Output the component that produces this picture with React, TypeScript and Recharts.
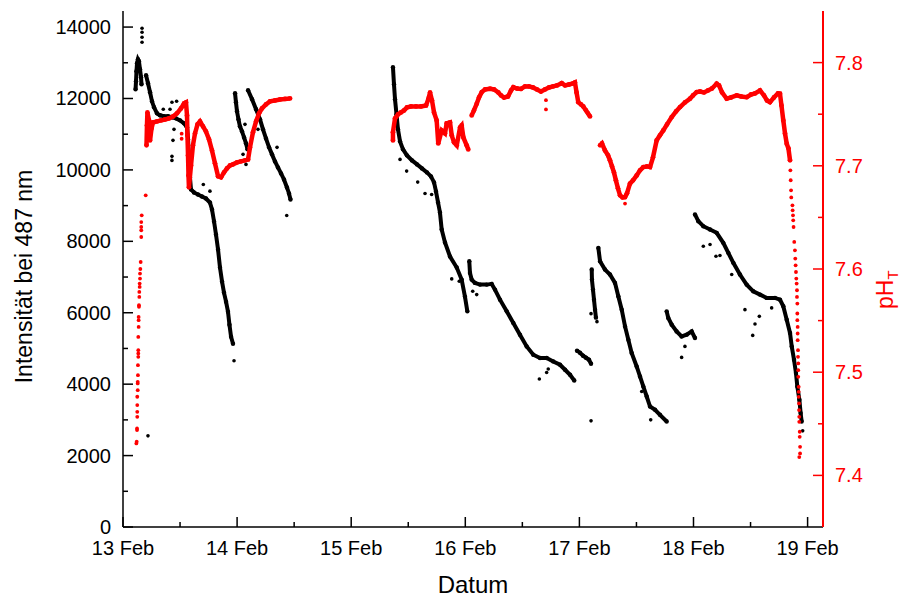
import { Scatter, ScatterChart, XAxis, YAxis } from "recharts";

type Pair = [number, number];

// x: day of February (fractional), y: intensity at 487 nm
const intensity13Start: Pair[] = [
    [13.110, 12258], [13.114, 12482], [13.118, 12763], [13.123, 12987], [13.131, 13099],
    [13.140, 13043], [13.149, 12819], [13.158, 12594], [13.162, 12398],
];
const intensity13: Pair[] = [
    [13.202, 12650], [13.219, 12426], [13.237, 12174], [13.254, 11921], [13.272, 11753],
    [13.298, 11585], [13.324, 11529], [13.359, 11501], [13.394, 11501], [13.429, 11473],
    [13.464, 11444], [13.500, 11388], [13.535, 11304], [13.561, 11192], [13.570, 10855],
    [13.578, 10294], [13.587, 9789], [13.596, 9453], [13.622, 9369], [13.657, 9313],
    [13.692, 9257], [13.727, 9200], [13.762, 9088], [13.780, 8892], [13.798, 8555],
    [13.815, 8191], [13.833, 7770], [13.850, 7265], [13.868, 6872], [13.885, 6564],
    [13.903, 6311], [13.920, 6031], [13.933, 5666], [13.947, 5330], [13.964, 5133],
];
const intensity14a: Pair[] = [
    [13.982, 12146], [13.990, 11893], [13.999, 11641], [14.012, 11416], [14.025, 11220],
    [14.043, 11080], [14.061, 10911], [14.078, 10743], [14.091, 10575],
];
const intensity14b: Pair[] = [
    [14.096, 12230], [14.131, 11977], [14.166, 11697], [14.201, 11416], [14.227, 11136],
    [14.253, 10883], [14.280, 10631], [14.306, 10435], [14.332, 10238], [14.358, 10070],
    [14.385, 9902], [14.411, 9733], [14.437, 9509], [14.455, 9341], [14.468, 9172],
];
const intensity15: Pair[] = [
    [15.366, 12875], [15.375, 12398], [15.384, 11977], [15.397, 11557], [15.410, 11136],
    [15.428, 10799], [15.454, 10575], [15.489, 10407], [15.533, 10266], [15.577, 10154],
    [15.620, 10042], [15.664, 9930], [15.699, 9818], [15.726, 9649], [15.743, 9397],
    [15.761, 9088], [15.778, 8808], [15.793, 8331], [15.822, 7966], [15.866, 7574],
    [15.925, 7265], [15.968, 6928], [15.997, 6452], [16.018, 6039],
];
const intensity16: Pair[] = [
    [16.035, 7442], [16.041, 7116], [16.056, 6928], [16.085, 6836], [16.129, 6788],
    [16.188, 6788], [16.231, 6808], [16.260, 6648], [16.304, 6367], [16.363, 6039],
    [16.421, 5714], [16.479, 5386], [16.538, 5057], [16.596, 4825], [16.655, 4732],
    [16.713, 4732], [16.771, 4637], [16.830, 4544], [16.874, 4404], [16.918, 4264],
    [16.955, 4104],
];
const intensity17a: Pair[] = [
    [16.979, 4937], [17.005, 4881], [17.032, 4797], [17.058, 4740], [17.084, 4684], [17.102, 4572],
];
const intensity17b: Pair[] = [
    [17.108, 7209], [17.110, 6928], [17.119, 6648], [17.128, 6367], [17.137, 6087], [17.145, 5862],
];
const intensity17c: Pair[] = [
    [17.166, 7817], [17.181, 7442], [17.224, 7209], [17.268, 7069], [17.312, 6836],
    [17.341, 6460], [17.371, 6087], [17.400, 5618], [17.429, 5245], [17.458, 4872],
    [17.502, 4496], [17.531, 4216], [17.560, 3935], [17.590, 3655], [17.619, 3374],
    [17.663, 3282], [17.706, 3142], [17.765, 2954],
];
const intensity17d: Pair[] = [
    [17.765, 6039], [17.779, 5854], [17.809, 5666], [17.852, 5478], [17.896, 5338],
    [17.940, 5386], [17.984, 5478], [18.013, 5293],
];
const intensity18: Pair[] = [
    [18.013, 8752], [18.042, 8564], [18.086, 8424], [18.145, 8331], [18.203, 8238],
    [18.261, 7958], [18.305, 7677], [18.349, 7397], [18.407, 7069], [18.466, 6788],
    [18.524, 6600], [18.583, 6508], [18.641, 6415], [18.714, 6415], [18.758, 6367],
    [18.787, 6180], [18.817, 5806], [18.846, 5433], [18.861, 5057], [18.881, 4684],
    [18.898, 4311], [18.910, 3935], [18.928, 3562], [18.939, 3189], [18.948, 2954],
];
const intensityOutliers: Pair[] = [
    [13.167, 13969], [13.167, 13857], [13.167, 13716], [13.167, 13576], [13.219, 2553],
    [13.353, 11697], [13.412, 11697], [13.429, 11893], [13.447, 11136], [13.438, 10827],
    [13.429, 10379], [13.429, 10266], [13.470, 11921], [13.704, 9593], [13.762, 9405],
    [13.973, 4656], [14.069, 11276], [14.052, 10435], [14.078, 10154], [14.183, 11136],
    [14.350, 10631], [14.435, 8724], [15.428, 10294], [15.486, 9966], [15.583, 9658],
    [15.647, 9341], [15.705, 9313], [15.881, 6948], [15.947, 6881], [16.100, 6508],
    [16.065, 6600], [16.649, 4143], [16.713, 4328], [16.727, 4423], [17.102, 2973],
    [17.102, 5975], [17.154, 5750], [17.625, 3001], [17.546, 3795], [17.896, 4749],
    [17.925, 5057], [18.086, 7862], [18.145, 7910], [18.197, 7582], [18.232, 7602],
    [18.335, 7069], [18.451, 6087], [18.577, 5899], [18.539, 5686], [18.519, 5366],
    [18.685, 6135], [18.957, 2693],
];

// x: day of February, y: pH_T
const phRise13: Pair[] = [
    [13.117, 7.431], [13.120, 7.4326], [13.123, 7.4439], [13.123, 7.4455], [13.125, 7.4568],
    [13.125, 7.4616], [13.125, 7.4681], [13.125, 7.4762], [13.129, 7.4826], [13.129, 7.4891],
    [13.129, 7.4907], [13.131, 7.4971], [13.131, 7.5068], [13.134, 7.5149], [13.134, 7.5182],
    [13.134, 7.5213], [13.134, 7.5342], [13.137, 7.5439], [13.137, 7.5504], [13.137, 7.5536],
    [13.140, 7.5633], [13.140, 7.5649], [13.143, 7.5729], [13.143, 7.5778], [13.146, 7.5826],
    [13.146, 7.5859], [13.149, 7.5907], [13.149, 7.5956], [13.152, 7.6], [13.155, 7.6068],
    [13.160, 7.631], [13.160, 7.6375], [13.160, 7.6407], [13.160, 7.6455], [13.164, 7.652],
    [13.199, 7.6714],
];
const ph13: Pair[] = [
    [13.206, 7.7198], [13.210, 7.7391], [13.214, 7.7517], [13.228, 7.744], [13.237, 7.7246],
    [13.250, 7.7362], [13.263, 7.742], [13.298, 7.743], [13.333, 7.744], [13.368, 7.7449],
    [13.403, 7.7459], [13.438, 7.7478], [13.473, 7.7508], [13.508, 7.7556], [13.535, 7.7604],
    [13.552, 7.7614], [13.561, 7.7488], [13.565, 7.7295], [13.570, 7.7101], [13.574, 7.6907],
    [13.578, 7.6791], [13.596, 7.7004], [13.613, 7.7198], [13.631, 7.7314], [13.653, 7.7401],
    [13.675, 7.743], [13.701, 7.7382], [13.727, 7.7333], [13.754, 7.7256], [13.780, 7.7149],
    [13.806, 7.7024], [13.833, 7.6898], [13.859, 7.6888], [13.885, 7.6936], [13.911, 7.6975],
    [13.938, 7.7004], [13.964, 7.7014], [13.999, 7.7033], [14.034, 7.7043], [14.069, 7.7053],
    [14.096, 7.7062], [14.113, 7.7178], [14.139, 7.7324], [14.166, 7.743], [14.192, 7.7508],
    [14.218, 7.7556], [14.253, 7.7595], [14.288, 7.7624], [14.332, 7.7633], [14.376, 7.7643],
    [14.420, 7.7648], [14.464, 7.7653],
];
const ph15: Pair[] = [
    [15.366, 7.7246], [15.366, 7.7326], [15.384, 7.7459], [15.410, 7.7498], [15.436, 7.7517],
    [15.463, 7.7537], [15.489, 7.7566], [15.524, 7.7575], [15.568, 7.7575], [15.612, 7.7575],
    [15.656, 7.7585], [15.678, 7.7653], [15.691, 7.7711], [15.708, 7.7633], [15.726, 7.7517],
    [15.749, 7.744], [15.763, 7.7217], [15.793, 7.7343], [15.822, 7.7314], [15.837, 7.7411],
    [15.866, 7.742], [15.881, 7.7295], [15.901, 7.7227], [15.925, 7.7198], [15.954, 7.7372],
    [15.968, 7.7391], [15.983, 7.7275], [16.012, 7.7198], [16.026, 7.7159],
];
const ph16: Pair[] = [
    [16.056, 7.7488], [16.076, 7.7537], [16.100, 7.7601], [16.120, 7.7662], [16.144, 7.7714],
    [16.173, 7.774], [16.217, 7.7747], [16.252, 7.774], [16.289, 7.7711], [16.313, 7.7682],
    [16.339, 7.7662], [16.374, 7.7672], [16.401, 7.773], [16.421, 7.7762], [16.453, 7.7749],
    [16.488, 7.7745], [16.523, 7.7769], [16.558, 7.7769], [16.593, 7.7759], [16.628, 7.774],
    [16.663, 7.772], [16.698, 7.774], [16.734, 7.7759], [16.769, 7.7769], [16.804, 7.7779],
    [16.845, 7.7801], [16.874, 7.7779], [16.909, 7.7788], [16.944, 7.7798], [16.961, 7.7808],
    [16.975, 7.7711], [16.990, 7.7617], [17.014, 7.7595], [17.034, 7.7575], [17.058, 7.7537],
    [17.075, 7.7508], [17.093, 7.7478],
];
const ph17: Pair[] = [
    [17.181, 7.7198], [17.198, 7.7217], [17.224, 7.7149], [17.251, 7.7101], [17.268, 7.7053],
    [17.286, 7.6994], [17.303, 7.6936], [17.320, 7.6859], [17.338, 7.6782], [17.356, 7.6714],
    [17.378, 7.6694], [17.400, 7.6697], [17.417, 7.6733], [17.443, 7.6827], [17.470, 7.6859],
    [17.502, 7.6907], [17.531, 7.6956], [17.560, 7.6988], [17.592, 7.6994], [17.619, 7.6988],
    [17.645, 7.7082], [17.677, 7.7246], [17.706, 7.7295], [17.735, 7.7343], [17.768, 7.7401],
    [17.809, 7.7472], [17.847, 7.7527], [17.882, 7.7569], [17.925, 7.7614], [17.969, 7.765],
    [17.996, 7.7682], [18.028, 7.7714], [18.057, 7.772], [18.092, 7.7711], [18.127, 7.773],
    [18.162, 7.7749], [18.203, 7.7795], [18.224, 7.7779], [18.250, 7.7711], [18.291, 7.765],
    [18.329, 7.7662], [18.379, 7.7682], [18.417, 7.7672], [18.466, 7.7665], [18.504, 7.7691],
    [18.539, 7.7701], [18.583, 7.773], [18.618, 7.7682], [18.644, 7.7633], [18.670, 7.7617],
    [18.705, 7.7662], [18.740, 7.7701], [18.758, 7.7698], [18.771, 7.7585], [18.787, 7.744],
    [18.802, 7.7314], [18.817, 7.7214], [18.832, 7.7169], [18.846, 7.7053],
];
const phDrop19: Pair[] = [
    [18.849, 7.6956], [18.852, 7.686], [18.855, 7.6762], [18.857, 7.6694], [18.867, 7.6617],
    [18.869, 7.6569], [18.872, 7.652], [18.874, 7.6472], [18.877, 7.6407], [18.883, 7.6262],
    [18.889, 7.6181], [18.892, 7.6101], [18.895, 7.6036], [18.898, 7.5971], [18.901, 7.5907],
    [18.904, 7.5859], [18.907, 7.5794], [18.907, 7.5729], [18.910, 7.5665], [18.910, 7.5569],
    [18.910, 7.5504], [18.913, 7.5439], [18.913, 7.5375], [18.913, 7.531], [18.916, 7.5213],
    [18.916, 7.5149], [18.918, 7.5085], [18.918, 7.502], [18.918, 7.4955], [18.922, 7.4858],
    [18.922, 7.481], [18.922, 7.4761], [18.925, 7.4697], [18.925, 7.4633], [18.927, 7.4568],
    [18.927, 7.4519], [18.931, 7.4423], [18.931, 7.4374], [18.934, 7.4277], [18.934, 7.4213],
    [18.927, 7.4178],
];
const phOutliers: Pair[] = [
    [16.707, 7.7636], [16.707, 7.7546], [17.400, 7.6634], [13.514, 7.7311], [13.514, 7.7262],
];

const dayTicks = [13, 13.5, 14, 14.5, 15, 15.5, 16, 16.5, 17, 17.5, 18, 18.5, 19];
const intensityTicks = [0, 1000, 2000, 3000, 4000, 5000, 6000, 7000, 8000, 9000, 10000, 11000, 12000, 13000, 14000];
const phTicks = [7.4, 7.45, 7.5, 7.55, 7.6, 7.65, 7.7, 7.75, 7.8];

const BLACK = "#000000";
const RED = "#ff0000";
const FONT = "'Liberation Sans', Arial, sans-serif";

// plot frame (margins + axis sizes)
const LEFT = 123;
const RIGHT = 823;
const TOP = 11;
const BOTTOM = 527;

const toPoints = (pairs: Pair[]) => pairs.map(([x, y]) => ({ x, y }));

const blackLines = [intensity13Start, intensity13, intensity14a, intensity14b, intensity15, intensity16, intensity17a, intensity17b, intensity17c, intensity17d, intensity18];
const redLines = [ph13, ph15, ph16, ph17];
const redDots = [phRise13, phDrop19, phOutliers];

const dot = (color: string, r: number) => (p: any) => <circle cx={p.cx} cy={p.cy} r={r} fill={color} />;

const BottomTick = (p: any) => {
    const v = p.payload.value;
    const major = Number.isInteger(v);
    return (
        <g>
            <line x1={p.x} x2={p.x} y1={BOTTOM} y2={BOTTOM - (major ? 10 : 5)} stroke={BLACK} strokeWidth={1.5} />
            {major && (
                <text x={p.x} y={BOTTOM + 28} textAnchor="middle" fontSize={20} fontFamily={FONT} fill={BLACK}>
                    {`${v} Feb`}
                </text>
            )}
        </g>
    );
};

const TopTick = (p: any) => (
    <line x1={p.x} x2={p.x} y1={TOP} y2={TOP + 4} stroke={BLACK} strokeWidth={1.5} />
);

const LeftTick = (p: any) => {
    const v = p.payload.value;
    const major = v % 2000 === 0;
    return (
        <g>
            <line x1={LEFT} x2={LEFT + (major ? 10 : 5)} y1={p.y} y2={p.y} stroke={BLACK} strokeWidth={1.5} />
            {major && (
                <text x={LEFT - 12} y={p.y + 7} textAnchor="end" fontSize={20} fontFamily={FONT} fill={BLACK}>
                    {v}
                </text>
            )}
        </g>
    );
};

const RightTick = (p: any) => {
    const v = p.payload.value;
    const major = Math.round(v * 100) % 10 === 0;
    return (
        <g>
            <line x1={RIGHT} x2={RIGHT - (major ? 10 : 5)} y1={p.y} y2={p.y} stroke={RED} strokeWidth={1.5} />
            {major && (
                <text x={RIGHT + 12} y={p.y + 7} textAnchor="start" fontSize={20} fontFamily={FONT} fill={RED}>
                    {v.toFixed(1)}
                </text>
            )}
        </g>
    );
};

export default function App() {
    return (
        <div style={{ position: "fixed", left: 0, top: 0, width: 902, height: 599, background: "#fff" }}>
            <ScatterChart width={902} height={599} margin={{ top: TOP, right: 0, bottom: 0, left: 0 }}>
                <XAxis
                    xAxisId="bottom"
                    type="number"
                    dataKey="x"
                    domain={[13, 19.135]}
                    ticks={dayTicks}
                    interval={0}
                    height={72}
                    tickSize={0}
                    tickMargin={0}
                    tickLine={false}
                    tick={(p: any) => <BottomTick {...p} />}
                    axisLine={{ stroke: BLACK, strokeWidth: 1.5 }}
                    allowDataOverflow
                />
                <XAxis
                    xAxisId="top"
                    orientation="top"
                    type="number"
                    dataKey="x"
                    domain={[13, 19.135]}
                    ticks={dayTicks}
                    interval={0}
                    height={0}
                    tickSize={0}
                    tickMargin={0}
                    tickLine={false}
                    tick={(p: any) => <TopTick {...p} />}
                    axisLine={{ stroke: BLACK, strokeWidth: 1.5 }}
                    allowDataOverflow
                />
                <YAxis
                    yAxisId="left"
                    type="number"
                    dataKey="y"
                    domain={[0, 14450]}
                    ticks={intensityTicks}
                    interval={0}
                    width={LEFT}
                    tickSize={0}
                    tickMargin={0}
                    tickLine={false}
                    tick={(p: any) => <LeftTick {...p} />}
                    axisLine={{ stroke: BLACK, strokeWidth: 1.5 }}
                    allowDataOverflow
                />
                <YAxis
                    yAxisId="right"
                    orientation="right"
                    type="number"
                    dataKey="y"
                    domain={[7.35, 7.85]}
                    ticks={phTicks}
                    interval={0}
                    width={902 - RIGHT}
                    tickSize={0}
                    tickMargin={0}
                    tickLine={false}
                    tick={(p: any) => <RightTick {...p} />}
                    axisLine={{ stroke: RED, strokeWidth: 2 }}
                    allowDataOverflow
                />
                {blackLines.map((seg, i) => (
                    <Scatter
                        key={`int-${i}`}
                        xAxisId="bottom"
                        yAxisId="left"
                        data={toPoints(seg)}
                        line={{ stroke: BLACK, strokeWidth: 4 }}
                        shape={dot(BLACK, 2.2)}
                        isAnimationActive={false}
                    />
                ))}
                <Scatter
                    xAxisId="bottom"
                    yAxisId="left"
                    data={toPoints(intensityOutliers)}
                    shape={dot(BLACK, 1.8)}
                    isAnimationActive={false}
                />
                {redLines.map((seg, i) => (
                    <Scatter
                        key={`ph-${i}`}
                        xAxisId="bottom"
                        yAxisId="right"
                        data={toPoints(seg)}
                        line={{ stroke: RED, strokeWidth: 4.5 }}
                        shape={dot(RED, 2.4)}
                        isAnimationActive={false}
                    />
                ))}
                {redDots.map((seg, i) => (
                    <Scatter
                        key={`phd-${i}`}
                        xAxisId="bottom"
                        yAxisId="right"
                        data={toPoints(seg)}
                        shape={dot(RED, 1.9)}
                        isAnimationActive={false}
                    />
                ))}
            </ScatterChart>
            <svg
                width={902}
                height={599}
                style={{ position: "absolute", left: 0, top: 0, pointerEvents: "none" }}
                fontFamily={FONT}
            >
                <text transform="translate(31.7, 276.5) rotate(-90)" textAnchor="middle" fontSize={23} fill={BLACK}>
                    Intensität bei 487 nm
                </text>
                <text x={473} y={593} textAnchor="middle" fontSize={24} fill={BLACK}>
                    Datum
                </text>
                <text transform="translate(893, 309) rotate(-90)" textAnchor="start" fontSize={23} fill={RED}>
                    pH
                    <tspan fontSize={15} dy={5}>T</tspan>
                </text>
            </svg>
        </div>
    );
}
